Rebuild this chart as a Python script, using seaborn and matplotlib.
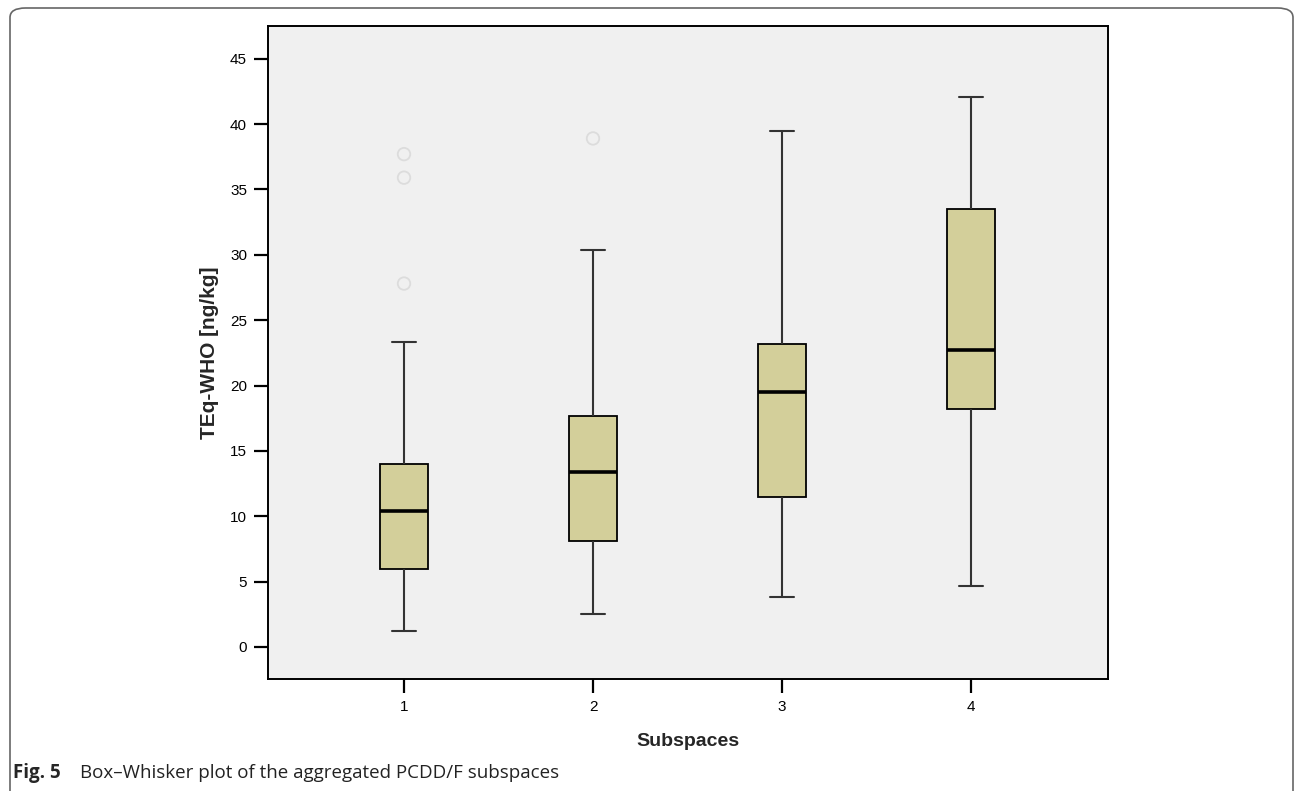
"""Box-whisker plot of aggregated PCDD/F subspaces."""

import matplotlib

matplotlib.use("Agg")
import matplotlib.pyplot as plt
import numpy as np
import pandas as pd
import seaborn as sns
from matplotlib.patches import FancyBboxPatch

# --------------------------------------------------------------------------- #
# Data (five-number summaries, plus outliers)
# --------------------------------------------------------------------------- #

subspaces = ["1", "2", "3", "4"]
whisker_low = [1.2, 2.5, 3.8, 4.7]
q1 = [6.0, 8.1, 11.5, 18.2]
median = [10.4, 13.4, 19.5, 22.7]
q3 = [14.0, 17.7, 23.2, 33.5]
whisker_high = [23.3, 30.4, 39.5, 42.1]

outlier_subspace = ["1", "1", "1", "2"]
outlier_value = [27.8, 35.9, 37.7, 38.9]

yticks = [0, 5, 10, 15, 20, 25, 30, 35, 40, 45]

# long-form table: each box built from its summary values
rows = []
for i, s in enumerate(subspaces):
    for v in (whisker_low[i], q1[i], median[i], q3[i], whisker_high[i]):
        rows.append({"subspace": s, "value": v})
df = pd.DataFrame(rows)
df_out = pd.DataFrame({"subspace": outlier_subspace, "value": outlier_value})

# --------------------------------------------------------------------------- #
# Plot
# --------------------------------------------------------------------------- #

sns.set_style("ticks")
plt.rcParams["font.family"] = ["Liberation Sans", "DejaVu Sans"]

fig = plt.figure(figsize=(12.95, 7.91), dpi=100)
ax = fig.add_axes([0.2069, 0.1416, 0.6487, 0.8255])
ax.set_facecolor("#f0f0f0")

sns.boxplot(
    data=df,
    x="subspace",
    y="value",
    order=subspaces,
    whis=(0, 100),
    width=0.254,
    color="#d3cf9a",
    saturation=1,
    linecolor="black",
    linewidth=1.3,
    showfliers=False,
    medianprops={"color": "black", "linewidth": 2.6},
    whiskerprops={"color": "#333333", "linewidth": 1.5},
    capprops={"color": "#333333", "linewidth": 1.5},
    ax=ax,
)

sns.stripplot(
    data=df_out,
    x="subspace",
    y="value",
    order=subspaces,
    jitter=False,
    marker="o",
    size=9,
    color="none",
    edgecolor="#dcdcdc",
    linewidth=1.3,
    ax=ax,
)

ax.set_xlim(-0.72, 3.725)
ax.set_ylim(-2.45, 47.5)
ax.set_yticks(yticks)
ax.set_yticklabels([str(t) for t in yticks])

for side in ["top", "right", "left", "bottom"]:
    ax.spines[side].set_visible(True)
    ax.spines[side].set_linewidth(1.4)
    ax.spines[side].set_color("black")

ax.tick_params(axis="both", direction="out", length=10, width=1.6,
               labelsize=11, colors="black", pad=5)
ax.set_xlabel("Subspaces", fontsize=14, fontweight="bold", labelpad=14)
ax.set_ylabel("TEq-WHO [ng/kg]", fontsize=15, fontweight="bold", labelpad=8)

# rounded frame around the figure, open at the bottom
frame = FancyBboxPatch(
    (10 / 1295, -0.05), 1283 / 1295, (791 - 8) / 791 + 0.05,
    boxstyle="round,pad=0,rounding_size=0.012",
    transform=fig.transFigure, fill=False,
    edgecolor="#666666", linewidth=1.2, clip_on=False,
)
fig.patches.append(frame)

cap_font = ["Open Sans", "DejaVu Sans"]
fig.text(13 / 1295, 1 - 773 / 791, "Fig. 5", fontsize=13.5, fontweight="bold",
         family=cap_font, va="center", ha="left")
fig.text(80 / 1295, 1 - 773 / 791, "Box\u2013Whisker plot of the aggregated PCDD/F subspaces",
         fontsize=13.5, family=cap_font, va="center", ha="left", color="#222222")

fig.savefig("out.png", dpi=100)
plt.close(fig)
